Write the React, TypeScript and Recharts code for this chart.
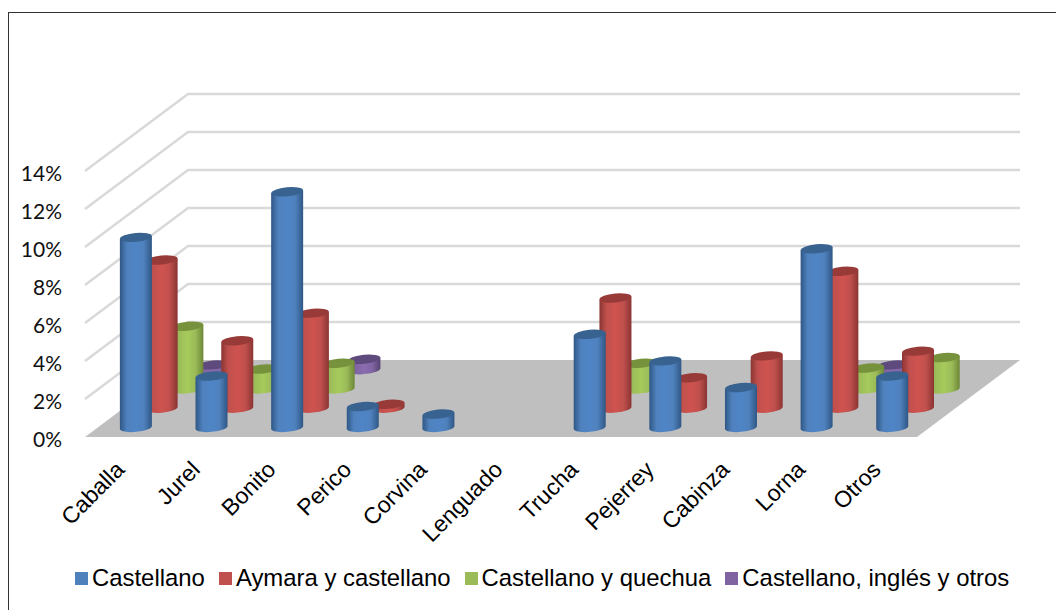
import { BarChart, Bar, XAxis, YAxis, CartesianGrid } from 'recharts'

const categories = ['Caballa', 'Jurel', 'Bonito', 'Perico', 'Corvina', 'Lenguado', 'Trucha', 'Pejerrey', 'Cabinza', 'Lorna', 'Otros']
const castellano = [10.0, 2.7, 12.4, 1.1, 0.7, 0, 4.9, 3.5, 2.1, 9.4, 2.7]
const aymara = [7.8, 3.55, 5.0, 0.2, 0, 0, 5.8, 1.6, 2.75, 7.2, 3.0]
const quechua = [3.3, 1.05, 1.35, 0, 0, 0, 1.35, 0, 0, 1.1, 1.65]
const ingles = [0.25, 0, 0.55, 0, 0, 0, 0, 0, 0, 0.25, 0]
const yTicks = [0, 2, 4, 6, 8, 10, 12, 14]

const data = categories.map((name, i) => ({
  name,
  castellano: castellano[i],
  aymara: aymara[i],
  quechua: quechua[i],
  ingles: ingles[i],
}))

// depth = how far back on the floor the row sits
const series = [
  { key: 'castellano', label: 'Castellano', depth: 0, swatch: '#4f81bd', top: '#38628f', edge: '#2f5785', mid: '#4f85c6' },
  { key: 'aymara', label: 'Aymara y castellano', depth: 1, swatch: '#c0504d', top: '#983a38', edge: '#8a3533', mid: '#cf534f' },
  { key: 'quechua', label: 'Castellano y quechua', depth: 2, swatch: '#9bbb59', top: '#76923c', edge: '#6d8836', mid: '#a6cb5b' },
  { key: 'ingles', label: 'Castellano, inglés y otros', depth: 3, swatch: '#8064a2', top: '#5f4a7d', edge: '#56426f', mid: '#8a6cb0' },
]

const WIDTH = 1056
const HEIGHT = 610
const PLOT_LEFT = 85
const PLOT_TOP = 171
const PLOT_RIGHT = 917
const PLOT_BOTTOM = 437
const DEPTH_X = 103
const DEPTH_Y = 77
const ROWS = 4
const BAR_W = 32
const RY = 4.5
const TILT = 1.5 // vertical skew of the ellipses, px each side

function WallLine(props: any) {
  const { x1, x2, y1 } = props
  const backY = y1 - DEPTH_Y
  const isFloor = Math.abs(y1 - PLOT_BOTTOM) < 1
  if (isFloor) {
    const pts = [
      [x1, y1],
      [x1 + DEPTH_X, backY],
      [x2 + DEPTH_X, backY],
      [x2, y1],
    ]
    return <polygon points={pts.map(p => p.join(',')).join(' ')} fill="#bfbfbf" />
  }
  return (
    <polyline
      points={`${x1},${y1} ${x1 + DEPTH_X},${backY} ${x2 + DEPTH_X},${backY}`}
      fill="none"
      stroke="#d9d9d9"
      strokeWidth={2.5}
    />
  )
}

function Cylinder(props: any) {
  const { x, y, width, height, rowKey, depth, topColor } = props
  if (!height || height <= 0) return null
  const dx = (depth + 0.5) * (DEPTH_X / ROWS)
  const dy = (depth + 0.5) * (DEPTH_Y / ROWS)
  const left = x + dx
  const right = left + width
  const top = y - dy
  const base = y + height - dy
  const rx = width / 2
  const angle = (Math.atan2(TILT * 2, width) * 180) / Math.PI
  const body = `M${left},${top + TILT} L${left},${base + TILT} A${rx},${RY} ${-angle} 0 0 ${right},${base - TILT} L${right},${top - TILT} Z`
  return (
    <g>
      <path d={body} fill={`url(#cyl-${rowKey})`} />
      <ellipse
        cx={left + rx}
        cy={top}
        rx={rx}
        ry={RY}
        fill={topColor}
        transform={`rotate(${-angle} ${left + rx} ${top})`}
      />
    </g>
  )
}

function CategoryTick({ x, y, payload }: any) {
  const ax = x + 3
  const ay = y - 4
  return (
    <text
      x={ax}
      y={ay}
      textAnchor="end"
      transform={`rotate(-45 ${ax} ${ay})`}
      fontFamily="'Liberation Sans', Arial, sans-serif"
      fontSize={23}
      fill="#000"
    >
      {payload.value}
    </text>
  )
}

function ChartLegend() {
  return (
    <div
      style={{
        position: 'absolute',
        left: 75,
        top: 564,
        display: 'flex',
        gap: 14,
        fontFamily: "'Liberation Sans', Arial, sans-serif",
        fontSize: 23.9,
        lineHeight: '28px',
        color: '#000',
        whiteSpace: 'nowrap',
      }}
    >
      {series.map(s => (
        <div key={s.key} style={{ display: 'flex', alignItems: 'center', gap: 4 }}>
          <span style={{ width: 13, height: 13, background: s.swatch, display: 'inline-block' }} />
          {s.label}
        </div>
      ))}
    </div>
  )
}

export default function App() {
  // back row first so the front rows paint over it
  const backToFront = [...series].reverse()
  return (
    <div style={{ position: 'absolute', left: 0, top: 0, width: WIDTH, height: HEIGHT, overflow: 'hidden', background: '#fff' }}>
      <div style={{ position: 'absolute', left: 8, top: 12, right: 0, bottom: 0, borderLeft: '1px solid #333', borderTop: '1px solid #333' }} />
      <div style={{ position: 'absolute', left: 0, top: 0 }}>
        <BarChart
          width={WIDTH}
          height={HEIGHT}
          data={data}
          barSize={BAR_W}
          margin={{ top: PLOT_TOP, right: WIDTH - PLOT_RIGHT, bottom: 0, left: 0 }}
        >
          <defs>
            {series.map(s => (
              <linearGradient key={s.key} id={`cyl-${s.key}`} x1="0" y1="0" x2="1" y2="0">
                <stop offset="0%" stopColor={s.edge} />
                <stop offset="22%" stopColor={s.swatch} />
                <stop offset="50%" stopColor={s.mid} />
                <stop offset="75%" stopColor={s.swatch} />
                <stop offset="100%" stopColor={s.edge} />
              </linearGradient>
            ))}
          </defs>
          <CartesianGrid horizontal={WallLine} vertical={false} />
          <XAxis
            xAxisId="castellano"
            dataKey="name"
            interval={0}
            axisLine={false}
            tickLine={false}
            height={HEIGHT - PLOT_BOTTOM}
            tick={<CategoryTick />}
          />
          <XAxis xAxisId="aymara" dataKey="name" hide />
          <XAxis xAxisId="quechua" dataKey="name" hide />
          <XAxis xAxisId="ingles" dataKey="name" hide />
          <YAxis
            width={PLOT_LEFT}
            domain={[0, 14]}
            ticks={yTicks}
            interval={0}
            axisLine={false}
            tickLine={false}
            tickSize={0}
            tickMargin={23}
            tickFormatter={v => `${v}%`}
            tick={{ fontFamily: "Lato, 'Open Sans', sans-serif", fontSize: 21, fill: '#111', dy: 3 }}
          />
          {backToFront.map(s => (
            <Bar
              key={s.key}
              xAxisId={s.key}
              dataKey={s.key}
              isAnimationActive={false}
              shape={(p: any) => <Cylinder {...p} rowKey={s.key} depth={s.depth} topColor={s.top} />}
            />
          ))}
        </BarChart>
      </div>
      <ChartLegend />
    </div>
  )
}
